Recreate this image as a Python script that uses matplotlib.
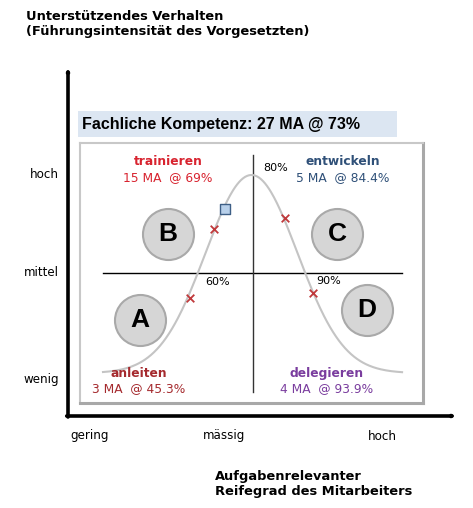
import numpy as np
import matplotlib
matplotlib.use("Agg")
import matplotlib.pyplot as plt
from matplotlib.patches import Rectangle, FancyArrowPatch

# Reifegrad-Modell (Hersey/Blanchard) -- Koordinaten des Panels 0..100
W, H = 473, 508

# Glockenkurve (Modellkurve)
curve_center = 50.0
curve_sigma = 13.4
curve_base = 11.5
curve_amp = 76.2

# Mitarbeiter-Gruppen (Kreuze auf der Kurve)
group_x = [32.1, 39.1, 59.8, 67.9]
group_y = [40.4, 66.9, 71.2, 42.3]

# Gesamtwert (blaues Quadrat)
total_x = [42.3]
total_y = [74.6]

# Quadranten-Kreise
quad_letters = ["A", "B", "C", "D"]
quad_x = [17.5, 25.7, 74.9, 83.7]
quad_y = [31.9, 65.0, 65.0, 35.8]

# Quadranten-Beschriftungen
style_names = ["anleiten", "trainieren", "entwickeln", "delegieren"]
style_counts = ["3 MA  @ 45.3%", "15 MA  @ 69%", "5 MA  @ 84.4%", "4 MA  @ 93.9%"]
style_colors = ["#a52a2e", "#d8232f", "#2f5078", "#7a3d9e"]
style_x = [17.2, 25.7, 76.5, 72.0]
style_y = [11.5, 92.7, 92.7, 11.5]

# Schwellen auf der Kurve
thresh_labels = ["60%", "80%", "90%"]
thresh_x = [40.2, 57.0, 72.6]
thresh_y = [46.5, 90.4, 46.9]

y_ticks = ["hoch", "mittel", "wenig"]
x_ticks = ["gering", "mässig", "hoch"]

fig = plt.figure(figsize=(W / 100, H / 100), dpi=100)
fig.patch.set_facecolor("white")

def fx(px):
    return px / W

def fy(py):
    return 1 - py / H

# Achsenpfeile
arrow = dict(arrowstyle="->,head_length=0.7,head_width=0.35", lw=2.6, color="black",
             shrinkA=0, shrinkB=0)
fig.add_artist(FancyArrowPatch((fx(68), fy(417)), (fx(68), fy(68)),
                               transform=fig.transFigure, **arrow))
fig.add_artist(FancyArrowPatch((fx(66.7), fy(416)), (fx(456), fy(416)),
                               transform=fig.transFigure, **arrow))

# Kopfzeile
fig.add_artist(Rectangle((fx(78), fy(137)), fx(397) - fx(78), fy(111) - fy(137),
                         transform=fig.transFigure, facecolor="#dce6f2", edgecolor="none"))
fig.text(fx(82), fy(124), "Fachliche Kompetenz: 27 MA @ 73%", family="Liberation Sans",
         weight="bold", fontsize=11.5, va="center", ha="left")

# Titel
fig.text(fx(26), fy(24.5), "Unterstützendes Verhalten\n(Führungsintensität des Vorgesetzten)",
         weight="bold", fontsize=9.4, va="center", ha="left", linespacing=1.2)
fig.text(fx(215), fy(484), "Aufgabenrelevanter\nReifegrad des Mitarbeiters",
         weight="bold", fontsize=9.4, va="center", ha="left", linespacing=1.2)

for lbl, py in zip(y_ticks, [175, 273, 380]):
    fig.text(fx(59), fy(py), lbl, fontsize=8.6, ha="right", va="center")
for lbl, px in zip(x_ticks, [90, 224, 382]):
    fig.text(fx(px), fy(436), lbl, fontsize=8.6, ha="center", va="center")

# Panel
ax = fig.add_axes([fx(80), fy(403), fx(423) - fx(80), fy(143) - fy(403)])
ax.set_xlim(0, 100)
ax.set_ylim(0, 100)
ax.set_xticks([])
ax.set_yticks([])
for side, sp in ax.spines.items():
    sp.set_color("#c8c8c8" if side in ("top", "left") else "#a8a8a8")
    sp.set_linewidth(1.5 if side in ("top", "left") else 2.2)

ax.plot([6.7, 93.9], [50, 50], color="black", lw=1)
ax.plot([50.4, 50.4], [4.2, 95.4], color="#333333", lw=1)

xs = np.linspace(6.7, 93.9, 300)
ys = curve_base + curve_amp * np.exp(-(xs - curve_center) ** 2 / (2 * curve_sigma ** 2))
ax.plot(xs, ys, color="#c4c4c4", lw=1.5)

ax.scatter(group_x, group_y, marker="x", s=30, color="#c0393b", linewidths=1.3, zorder=4)
ax.scatter(total_x, total_y, marker="s", s=45, facecolor="#b8d0ea", edgecolor="#3e5f86",
           linewidths=1, zorder=4)

ax.scatter(quad_x, quad_y, s=1350, facecolor="#d6d6d6", edgecolor="#a9a9a9",
           linewidths=1.5, zorder=3)
for l, x, y in zip(quad_letters, quad_x, quad_y):
    ax.text(x, y, l, family="Liberation Sans", weight="bold", fontsize=19,
            ha="center", va="center", zorder=5)

for name, cnt, c, x, y in zip(style_names, style_counts, style_colors, style_x, style_y):
    ax.text(x, y, name, color=c, weight="bold", fontsize=8.8, ha="center", va="center")
    ax.text(x, y - 5.8, cnt, color=c, fontsize=8.8, ha="center", va="center")

for l, x, y in zip(thresh_labels, thresh_x, thresh_y):
    ax.text(x, y, l, fontsize=8, ha="center", va="center")

fig.savefig("out.png", dpi=100)
